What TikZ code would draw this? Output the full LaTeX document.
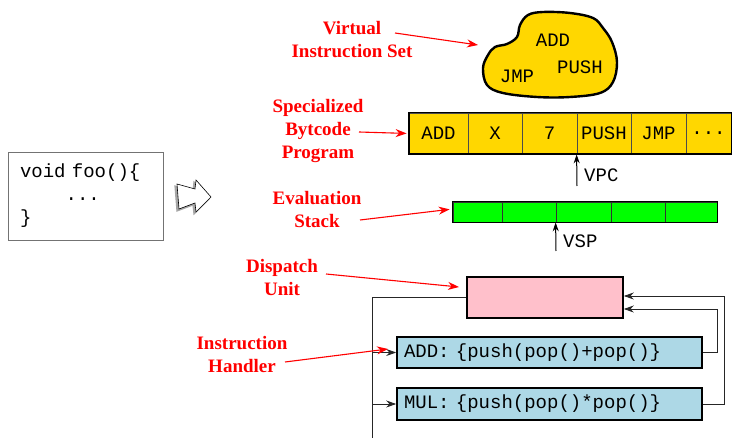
\documentclass[tikz,border=0pt]{standalone}
\usepackage{fontspec}
\setmainfont{Liberation Serif}
\setmonofont{Liberation Mono}
\usepackage{tikz}
\usetikzlibrary{arrows.meta}

\definecolor{vmgold}{HTML}{FFD700}
\definecolor{vmgreen}{HTML}{00FF00}
\definecolor{vmpink}{HTML}{FFC0CB}
\definecolor{vmblue}{HTML}{ADD8E6}
\newcommand{\moredots}{...}

\tikzset{
    redlabel/.style={text=red, font=\fontsize{19}{23}\selectfont\bfseries, align=center},
    redarrow/.style={draw=red, line width=1.1pt, -{Stealth[length=11pt,width=8pt]}},
    mono/.style={font=\fontsize{19}{23}\selectfont\ttfamily},
    pcell/.style={mono, draw=black!70, line width=0.8pt, fill=vmgold, minimum height=41, inner sep=0pt},
    scell/.style={draw=black!80, line width=0.8pt, fill=vmgreen, minimum height=20, inner sep=0pt},
    ptr/.style={line width=1pt, -{Stealth[length=9pt,width=6pt]}},
    link/.style={draw=black!85, line width=0.9pt},
    linkarrow/.style={link, -{Stealth[length=10pt,width=7pt]}},
    handler/.style={mono, draw, line width=1.6pt, fill=vmblue, text width=291, align=left,
        inner xsep=7pt, inner ysep=0pt, minimum height=31}
}

\begin{document}
\begin{tikzpicture}[x=1pt,y=-1pt]
    \useasboundingbox (0,0) rectangle (732,438);

    % source program
    \node[mono, draw=black!55, line width=0.8pt, text width=131, align=left, inner xsep=12pt,
        minimum height=88] (code) at (85.5,196) {void foo()\{\\\phantom{void}\moredots\\\}};

    % translation arrow
    \draw[draw=gray!70, fill=gray!70, line width=1.2pt, shift={(-2,2)}]
        (177,184) -- (195,189) -- (196,180) -- (211,197) -- (196,212) -- (195,203) -- (179,209) -- cycle;
    \draw[fill=white, line width=0.6pt]
        (177,184) -- (195,189) -- (196,180) -- (211,197) -- (196,212) -- (195,203) -- (179,209) -- cycle;

    % virtual instruction set
    \draw[fill=vmgold, line width=2.4pt] plot[smooth cycle, tension=0.6] coordinates {
        (495,47) (507,44) (517,37) (520,25) (528,15) (543,12) (570,13) (593,18) (603,28)
        (612,42) (617,62) (613,82) (600,93) (570,97) (537,97) (503,93) (487,85) (483,68) (488,55)};
    \node[mono] (vadd) at (553,40) {ADD};
    \node[mono] (vpush) at (580,67) {PUSH};
    \node[mono] (vjmp) at (517,76) {JMP};

    % bytecode program
    \foreach \n/\xa/\xb/\txt in {p1/409/468/ADD, p2/468/522/X, p3/522/577/7,
                                 p4/577/631/PUSH, p5/631/686/JMP, p6/686/731/\moredots}
        \node[pcell, minimum width={\xb-\xa}] (\n) at ({(\xa+\xb)/2},133.5) {\txt};
    \draw[line width=1.8pt] (p1.north west) rectangle (p6.south east);

    \coordinate (vpcfoot) at (577,186);
    \draw[ptr] (vpcfoot) -- (p4.south west);
    \node[mono, anchor=west, inner sep=0pt] (vpc) at (584,175) {VPC};

    % evaluation stack
    \foreach \n/\xa/\xb in {s1/453/502, s2/502/556, s3/556/611, s4/611/665, s5/665/717}
        \node[scell, minimum width={\xb-\xa}] (\n) at ({(\xa+\xb)/2},212) {};
    \draw[line width=1.6pt] (s1.north west) rectangle (s5.south east);

    \coordinate (vspfoot) at (556,251);
    \draw[ptr] (vspfoot) -- (s3.south west);
    \node[mono, anchor=west, inner sep=0pt] (vsp) at (563,241) {VSP};

    % dispatch unit and handlers
    \node[draw, line width=1.6pt, fill=vmpink, minimum width=156, minimum height=41] (disp) at (545,297.5) {};
    \node[handler] (add) at (549.5,352.5) {ADD: \{push(pop()+pop()\}};
    \node[handler, minimum height=32] (mul) at (549.5,404) {MUL: \{push(pop()*pop()\}};

    \coordinate (bus) at (372,438);
    \draw[link] (disp.west) -| (bus);
    \draw[linkarrow] (add.west -| bus) -- (add.west);
    \draw[linkarrow] (mul.west -| bus) -- (mul.west);
    \draw[linkarrow] (add.east) -- ++(15,0) |- ([yshift=-11.5pt]disp.east);
    \draw[linkarrow] (mul.east) -- ++(22,0) |- ([yshift=1.5pt]disp.east);

    % labels
    \node[redlabel] (lvis) at (352,40) {Virtual\\Instruction Set};
    \node[redlabel] (lprog) at (318,131) {Specialized\\Bytcode\\Program};
    \node[redlabel] (lstack) at (317,210) {Evaluation\\Stack};
    \node[redlabel] (ldisp) at (282,278) {Dispatch\\Unit};
    \node[redlabel] (lhand) at (242,355) {Instruction\\Handler};

    \coordinate (visfrom) at (395,33);
    \coordinate (visto) at (478,45);
    \coordinate (progfrom) at (359,132);
    \coordinate (stackfrom) at (360,220);
    \coordinate (dispfrom) at (326,274);
    \coordinate (dispto) at (459,287);
    \coordinate (handfrom) at (285,362);
    \coordinate (handto) at (388,349);
    \draw[redarrow] (visfrom) -- (visto);
    \draw[redarrow, shorten >=2pt] (progfrom) -- (p1.west);
    \draw[redarrow, shorten >=3pt] (stackfrom) -- ([yshift=3pt]s1.west);
    \draw[redarrow] (dispfrom) -- (dispto);
    \draw[redarrow] (handfrom) -- (handto);
\end{tikzpicture}
\end{document}
